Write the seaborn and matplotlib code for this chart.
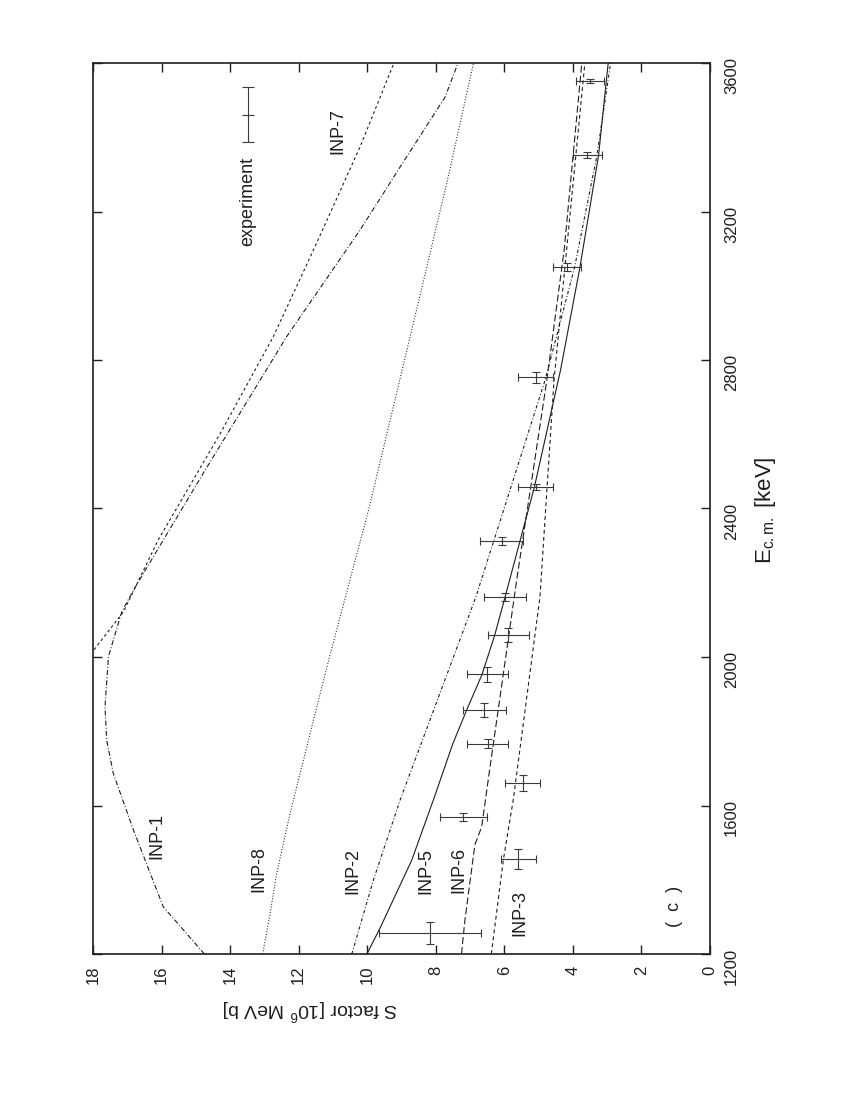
'''
S factor versus E c.m. for the INP model curves and the experiment (page drawn rotated).
'''

import numpy as np
import pandas as pd
import seaborn as sns
import matplotlib
matplotlib.use('Agg')
import matplotlib.pyplot as plt

# Model curves: energy (keV) and S factor (10^6 MeV b).
inp1_e = [1200, 1327, 1534, 1687, 1776, 1866, 2001, 2122, 2180, 2315, 2500, 2863, 3150, 3320, 3508, 3600]
inp1_s = [14.75, 15.95, 16.82, 17.41, 17.60, 17.65, 17.55, 17.16, 16.82, 15.95, 14.75, 12.35, 10.21, 9.04, 7.73, 7.35]

inp7_e = [1995, 2028, 2122, 2315, 2600, 2863, 3100, 3374, 3600]
inp7_s = [18.15, 17.90, 17.11, 16.10, 14.30, 12.74, 11.55, 10.21, 9.22]

inp8_e = [1200, 1300, 1417, 1579, 1800, 2000, 2400, 2862, 3276, 3600]
inp8_s = [13.05, 12.85, 12.64, 12.25, 11.65, 11.10, 9.95, 8.75, 7.68, 6.90]

inp2_e = [1200, 1399, 1615, 2162, 2746, 3050, 3350, 3600]
inp2_s = [10.45, 9.82, 9.04, 6.83, 4.81, 3.95, 3.30, 2.90]

inp5_e = [1200, 1269, 1453, 1615, 1767, 1857, 1953, 2059, 2161, 2459, 2773, 3047, 3352, 3600]
inp5_s = [10.01, 9.63, 8.70, 8.07, 7.50, 7.10, 6.65, 6.28, 5.98, 5.12, 4.36, 3.80, 3.25, 2.97]

inp6_e = [1200, 1291, 1494, 1543, 1669, 2207, 2746, 3100, 3600]
inp6_s = [7.25, 7.15, 6.86, 6.66, 6.47, 5.64, 4.76, 4.25, 3.74]

inp3_e = [1200, 1453, 1615, 2162, 2746, 3100, 3600]
inp3_s = [6.38, 6.03, 5.74, 4.96, 4.55, 4.18, 3.65]

# Experiment: energy, S factor and their errors.
exp_e = [1257, 1455, 1570, 1660, 1767, 1857, 1953, 2059, 2161, 2312, 2459, 2753, 3051, 3352, 3551]
exp_s = [8.17, 5.59, 7.20, 5.47, 6.49, 6.58, 6.50, 5.88, 5.98, 6.08, 5.08, 5.08, 4.18, 3.58, 3.50]
exp_de = [30, 27, 11, 21, 11, 19, 21, 18, 11, 11, 8, 14, 11, 8, 5]
exp_ds = [1.50, 0.50, 0.69, 0.50, 0.60, 0.62, 0.60, 0.60, 0.60, 0.62, 0.51, 0.51, 0.41, 0.42, 0.40]

s_ticks = list(range(0, 19, 2))
e_ticks = list(range(1200, 3601, 400))

sns.set_style('ticks')
plt.rcParams['font.family'] = ['Liberation Sans', 'DejaVu Sans']
plt.rcParams['mathtext.fontset'] = 'custom'
plt.rcParams['mathtext.rm'] = 'Liberation Sans'
plt.rcParams['mathtext.it'] = 'Liberation Sans:italic'
plt.rcParams['lines.scale_dashes'] = False

ink = '#1e1e1e'

curves = [
    ('INP-1', inp1_e, inp1_s, (0, (3.6, 1.5, 0.7, 1.5))),
    ('INP-7', inp7_e, inp7_s, (0, (2.0, 2.0))),
    ('INP-8', inp8_e, inp8_s, (0, (0.7, 1.3))),
    ('INP-2', inp2_e, inp2_s, (0, (2.4, 1.5, 0.7, 1.5))),
    ('INP-5', inp5_e, inp5_s, '-'),
    ('INP-6', inp6_e, inp6_s, (0, (5.0, 2.2))),
    ('INP-3', inp3_e, inp3_s, (0, (2.8, 2.2))),
]

fig = plt.figure(figsize=(8.5, 11), dpi=100)
ax = fig.add_axes([93 / 850, 1 - 954 / 1100, 617 / 850, 891 / 1100])

# energy runs up the page, S factor runs right to left
for name, e, s, ls in curves:
    df = pd.DataFrame({'E': e, 'S': s})
    sns.lineplot(data=df, x='S', y='E', sort=False, estimator=None, ax=ax,
                 color=ink, linewidth=0.8, linestyle=ls)

ax.errorbar(exp_s, exp_e, xerr=exp_ds, yerr=exp_de, fmt='none', ecolor='#3a3a3a',
            elinewidth=0.8, capsize=3, capthick=0.8)

ax.set_xlim(18, 0)
ax.set_ylim(1200, 3600)
ax.set_xticks(s_ticks)
ax.set_yticks(e_ticks)
ax.set_xlabel('')
ax.set_ylabel('')
ax.tick_params(axis='x', bottom=True, top=True, direction='in', length=6.5, width=1,
               labelrotation=90, labelsize=12, pad=8.5, colors=ink)
ax.tick_params(axis='y', left=True, right=True, labelleft=False, labelright=True,
               direction='in', length=6.5, width=1, labelrotation=90, labelsize=12,
               pad=10, colors=ink)
for sp in ax.spines.values():
    sp.set_visible(True)
    sp.set_linewidth(1.2)
    sp.set_color(ink)

# curve labels
labels = [('INP-7', 10.85, 3417), ('INP-1', 16.13, 1518), ('INP-8', 13.16, 1429),
          ('INP-2', 10.41, 1424), ('INP-5', 8.28, 1424), ('INP-6', 7.32, 1426),
          ('INP-3', 5.54, 1310), ('(  c  )', 1.05, 1329)]
for txt, sx, ey in labels:
    ax.text(sx, ey, txt, rotation=90, ha='center', va='center', fontsize=13, color=ink)

# legend key
kx = 0.2512
ax.plot([kx, kx], [0.911, 0.973], transform=ax.transAxes, color='#3a3a3a', lw=0.8)
ax.plot([kx, kx, kx], [0.911, 0.942, 0.973], transform=ax.transAxes, ls='none',
        marker='_', ms=8, mew=0.8, color='#3a3a3a')
ax.text(kx, 0.845, 'experiment', transform=ax.transAxes, rotation=90,
        ha='center', va='center', fontsize=13, color=ink)

fig.text(310 / 850, 1 - 1010 / 1100, r'S factor [10$^{6}$ MeV b]', rotation=180,
         ha='center', va='center', fontsize=14, color=ink)
fig.text(765 / 850, 1 - 510 / 1100, r'E$_{\rm c.m.}$ [keV]', rotation=90,
         ha='center', va='center', fontsize=16, color=ink)

fig.savefig('out.png', dpi=100)
